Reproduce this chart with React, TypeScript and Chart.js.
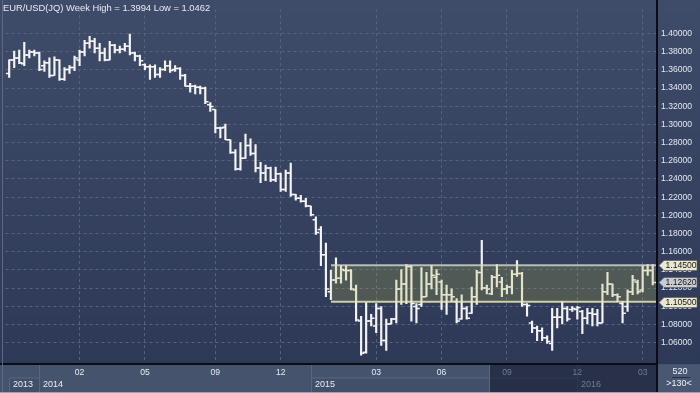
import React, { useEffect, useRef } from 'react';
import { Chart, registerables } from 'chart.js';
Chart.register(...registerables);

// Weekly EUR/USD OHLC, one entry per week (index 0 = late Nov 2013)
const opens = [1.3560,1.3710,1.3732,1.3668,1.3764,1.3796,1.3786,1.3646,1.3678,1.3539,
1.3710,1.3496,1.3603,1.3625,1.3710,1.3796,1.3893,1.3914,1.3839,1.3786,
1.3710,1.3871,1.3818,1.3828,1.3861,1.3786,1.3753,1.3657,1.3635,1.3635,
1.3550,1.3603,1.3646,1.3603,1.3614,1.3539,1.3421,1.3421,1.3410,1.3399,
1.3217,1.3163,1.2960,1.2970,1.2831,1.2692,1.2509,1.2627,1.2767,1.2681,
1.2520,1.2466,1.2520,1.2391,1.2456,1.2284,1.2466,1.2230,1.2187,1.2155,
1.2102,1.1952,1.1844,1.1565,1.1158,1.1287,1.1308,1.1394,1.1394,1.1179,
1.0836,1.0493,1.0836,1.0782,1.0976,1.0622,1.0804,1.0858,1.1190,1.1243,
1.1437,1.0997,1.1019,1.1104,1.1243,1.1319,1.1265,1.1126,1.1126,1.1051,
1.0858,1.0976,1.0922,1.1104,1.1372,1.1201,1.1136,1.1319,1.1265,1.1190,
1.1211,1.1351,1.1361,1.1019,1.0815,1.0761,1.0729,1.0654,1.0590,1.0879,
1.0879,1.0976,1.0965,1.0965,1.0943,1.0868,1.0922,1.0911,1.0815,1.1158,
1.1243,1.1126,1.1029,1.0997,1.1158,1.1265,1.1179,1.1394,1.1394];
const highs = [1.3710,1.3807,1.3818,1.3903,1.3818,1.3818,1.3796,1.3700,1.3732,1.3743,
1.3710,1.3625,1.3646,1.3753,1.3818,1.3925,1.3968,1.3946,1.3893,1.3839,
1.3914,1.3882,1.3861,1.3893,1.3994,1.3796,1.3764,1.3668,1.3657,1.3657,
1.3625,1.3700,1.3700,1.3646,1.3625,1.3550,1.3453,1.3432,1.3421,1.3410,
1.3239,1.3163,1.2970,1.3003,1.2831,1.2724,1.2799,1.2895,1.2842,1.2777,
1.2584,1.2552,1.2531,1.2531,1.2466,1.2498,1.2574,1.2230,1.2220,1.2187,
1.2102,1.1984,1.1876,1.1694,1.1394,1.1533,1.1447,1.1447,1.1404,1.1233,
1.0890,1.1040,1.0911,1.1029,1.0997,1.0858,1.0868,1.1287,1.1404,1.1458,
1.1447,1.1029,1.1426,1.1372,1.1447,1.1404,1.1287,1.1233,1.1190,1.1083,
1.1126,1.0997,1.1211,1.1394,1.1726,1.1233,1.1340,1.1458,1.1319,1.1233,
1.1394,1.1501,1.1372,1.1029,1.0836,1.0782,1.0761,1.0675,1.0976,1.0976,
1.1051,1.0997,1.0997,1.0997,1.0954,1.0976,1.0976,1.0965,1.1243,1.1372,
1.1243,1.1136,1.1051,1.1179,1.1340,1.1287,1.1447,1.1458,1.1458];
const lows = [1.3517,1.3625,1.3668,1.3646,1.3732,1.3753,1.3592,1.3582,1.3517,1.3539,
1.3485,1.3485,1.3560,1.3592,1.3646,1.3753,1.3839,1.3786,1.3700,1.3700,
1.3710,1.3786,1.3786,1.3807,1.3764,1.3700,1.3646,1.3603,1.3496,1.3517,
1.3517,1.3592,1.3571,1.3582,1.3496,1.3421,1.3356,1.3335,1.3335,1.3228,
1.3142,1.2906,1.2852,1.2831,1.2681,1.2498,1.2498,1.2627,1.2659,1.2477,
1.2359,1.2381,1.2370,1.2370,1.2263,1.2263,1.2209,1.2166,1.2145,1.2091,
1.1994,1.1791,1.1447,1.1104,1.1072,1.1254,1.1254,1.1287,1.1179,1.0836,
1.0462,1.0482,1.0782,1.0708,1.0568,1.0514,1.0804,1.0815,1.1019,1.1029,
1.0836,1.0815,1.0997,1.1104,1.1190,1.1126,1.0965,1.0911,1.1051,1.0815,
1.0858,1.0858,1.0922,1.1019,1.1179,1.1136,1.1126,1.1211,1.1104,1.1136,
1.1136,1.1329,1.0997,1.0890,1.0708,1.0622,1.0622,1.0590,1.0514,1.0761,
1.0804,1.0836,1.0943,1.0858,1.0697,1.0804,1.0782,1.0782,1.0815,1.1126,
1.1104,1.1051,1.0815,1.0943,1.1126,1.1136,1.1158,1.1340,1.1233];
const closes = [1.3710,1.3732,1.3678,1.3764,1.3796,1.3786,1.3603,1.3678,1.3539,1.3710,
1.3496,1.3603,1.3625,1.3732,1.3796,1.3893,1.3914,1.3839,1.3786,1.3710,
1.3871,1.3818,1.3828,1.3861,1.3786,1.3753,1.3700,1.3635,1.3635,1.3550,
1.3603,1.3646,1.3592,1.3614,1.3539,1.3421,1.3421,1.3410,1.3399,1.3249,
1.3196,1.2960,1.2960,1.2831,1.2692,1.2509,1.2627,1.2767,1.2681,1.2520,
1.2466,1.2520,1.2391,1.2456,1.2284,1.2466,1.2230,1.2187,1.2155,1.2102,
1.2005,1.1812,1.1565,1.1190,1.1287,1.1308,1.1404,1.1394,1.1190,1.0847,
1.0482,1.0836,1.0868,1.0976,1.0622,1.0804,1.0858,1.1190,1.1243,1.1437,
1.1029,1.0976,1.1104,1.1243,1.1340,1.1351,1.1126,1.1126,1.1104,1.0836,
1.0976,1.0868,1.1104,1.1372,1.1201,1.1190,1.1319,1.1340,1.1190,1.1211,
1.1351,1.1361,1.1019,1.1008,1.0761,1.0729,1.0654,1.0611,1.0879,1.0879,
1.0976,1.0858,1.0976,1.0986,1.0868,1.0922,1.0911,1.0815,1.1158,1.1243,
1.1126,1.1104,1.0922,1.1158,1.1287,1.1158,1.1394,1.1394,1.1262];

const monthTickIdx = [14, 27, 41, 54, 73, 86, 99, 113, 126];
const monthLabels = ['02', '05', '09', '12', '03', '06', '09', '12', '03'];
const yearLabels = ['2013', '2014', '2015', '2016'];
const yearStartIdx = [0, 6, 60, 113];
const yTicks = [1.06, 1.08, 1.10, 1.12, 1.14, 1.16, 1.18, 1.20, 1.22, 1.24, 1.26, 1.28, 1.30, 1.32, 1.34, 1.36, 1.38, 1.40];
const bandHigh = 1.145;
const bandLow = 1.105;
const bandStartIdx = 64;
const scrollStartIdx = 96;
const cornerTop = '520';
const cornerBottom = '>130<';
const symbol = 'EUR/USD(JQ) Week';

const FONT = '"Liberation Sans", Arial, sans-serif';

export default function App() {
  const ref = useRef<HTMLCanvasElement | null>(null);
  useEffect(() => {
    const canvas = ref.current!;
    const last = closes[closes.length - 1];
    const hi = Math.max(...highs);
    const lo = Math.min(...lows);
    const title = `${symbol} High = ${hi.toFixed(4)} Low = ${lo.toFixed(4)}`;

    const bgPlugin = {
      id: 'bgPlugin',
      beforeDraw(chart: any) {
        const { ctx, scales } = chart;
        const x = scales.x;
        ctx.save();
        const g = ctx.createLinearGradient(0, 0, 0, 364);
        g.addColorStop(0, '#3f4c69');
        g.addColorStop(1, '#2d3956');
        ctx.fillStyle = g;
        ctx.fillRect(0, 0, 700, 364);
        ctx.fillStyle = '#46536d';
        ctx.fillRect(0, 364, 700, 29);
        const xs = yearStartIdx.map((i) => Math.round(x.getPixelForValue(i)));
        const right = chart.chartArea.right;
        for (let k = 0; k < xs.length; k++) {
          const x0 = xs[k];
          const x1 = k + 1 < xs.length ? xs[k + 1] : right;
          if (k % 2 === 0) {
            ctx.fillStyle = '#424f69';
            ctx.fillRect(x0, 378, x1 - x0, 14);
            ctx.fillStyle = '#5a6680';
            ctx.fillRect(x0, 377.5, x1 - x0, 1);
          }
          ctx.fillStyle = '#5a6680';
          ctx.fillRect(x0, k === 0 ? 378 : 364, 1, k === 0 ? 14 : 28);
        }
        const sx = Math.round(x.getPixelForValue(scrollStartIdx - 0.5));
        ctx.fillStyle = 'rgba(20,27,46,0.6)';
        ctx.fillRect(sx, 364, right - sx, 28);
        ctx.fillStyle = '#5a6680';
        ctx.fillRect(sx, 364, 1, 28);
        ctx.restore();
      },
    };

    const bandPlugin = {
      id: 'bandPlugin',
      afterDatasetsDraw(chart: any) {
        const { ctx, scales, chartArea } = chart;
        const x0 = scales.x.getPixelForValue(bandStartIdx);
        const yT = scales.y.getPixelForValue(bandHigh);
        const yB = scales.y.getPixelForValue(bandLow);
        ctx.save();
        ctx.fillStyle = 'rgba(175,180,70,0.24)';
        ctx.fillRect(x0, yT, chartArea.right - x0, yB - yT);
        ctx.lineWidth = 2;
        ctx.strokeStyle = 'rgba(215,218,210,0.8)';
        ctx.beginPath();
        ctx.moveTo(x0, yT);
        ctx.lineTo(chartArea.right, yT);
        ctx.stroke();
        ctx.strokeStyle = 'rgba(235,230,180,0.85)';
        ctx.beginPath();
        ctx.moveTo(x0, yB);
        ctx.lineTo(chartArea.right, yB);
        ctx.stroke();
        ctx.restore();
      },
    };

    const overlayPlugin = {
      id: 'overlayPlugin',
      afterDraw(chart: any) {
        const { ctx, scales } = chart;
        const x = scales.x;
        const y = scales.y;
        ctx.save();
        ctx.fillStyle = '#0a0d14';
        ctx.fillRect(656, 0, 2, 393);
        ctx.fillRect(0, 363, 657, 2);
        ctx.fillStyle = '#5e6a85';
        ctx.fillRect(2, 0, 1, 393);
        ctx.fillStyle = '#9aa3b6';
        ctx.fillRect(0, 392, 700, 1);
        ctx.font = `9px ${FONT}`;
        ctx.textBaseline = 'middle';
        ctx.textAlign = 'left';
        yearLabels.forEach((lab, k) => {
          const px = Math.round(x.getPixelForValue(yearStartIdx[k]));
          ctx.fillStyle = yearStartIdx[k] >= scrollStartIdx ? '#6f7b96' : '#e8ecf2';
          ctx.fillText(lab, px + 4, 385);
        });
        ctx.fillStyle = '#4a5773';
        ctx.fillRect(658, 365, 42, 27);
        ctx.fillStyle = '#f0f2f6';
        ctx.textAlign = 'center';
        ctx.fillText(cornerTop, 680, 372);
        ctx.fillStyle = '#27304a';
        ctx.fillRect(672, 377, 18, 1);
        ctx.fillStyle = '#f0f2f6';
        ctx.fillText(cornerBottom, 679, 384);
        const callouts = [
          { v: bandHigh, bg: '#ebe8d2' },
          { v: last, bg: '#c7cbd4' },
          { v: bandLow, bg: '#ebe8d2' },
        ];
        ctx.font = `8.6px ${FONT}`;
        ctx.textAlign = 'left';
        callouts.forEach((c) => {
          const cy = Math.round(y.getPixelForValue(c.v)) + 0.5;
          ctx.beginPath();
          ctx.moveTo(659, cy);
          ctx.lineTo(664, cy - 5);
          ctx.lineTo(697, cy - 5);
          ctx.lineTo(697, cy + 5);
          ctx.lineTo(664, cy + 5);
          ctx.closePath();
          ctx.fillStyle = c.bg;
          ctx.fill();
          ctx.strokeStyle = 'rgba(90,90,80,0.6)';
          ctx.lineWidth = 1;
          ctx.stroke();
          ctx.fillStyle = '#161616';
          ctx.fillText(c.v.toFixed(5), 665.5, cy + 0.5);
        });
        ctx.font = `9.4px ${FONT}`;
        ctx.fillStyle = '#e8ebf2';
        ctx.textAlign = 'left';
        ctx.textBaseline = 'middle';
        ctx.fillText(title, 3, 8);
        ctx.restore();
      },
    };

    const white = '#f4f4f4';
    const chart = new Chart(canvas, {
      type: 'bar',
      data: {
        datasets: [
          {
            type: 'bar',
            data: lows.map((l, i) => ({ x: i, y: [l, highs[i]] })) as any,
            backgroundColor: white,
            borderWidth: 0,
            barThickness: 1.5,
            order: 3,
          } as any,
          {
            type: 'scatter',
            data: opens.map((o, i) => ({ x: i, y: o })),
            pointStyle: 'dash',
            rotation: 180,
            radius: 3.3,
            borderColor: white,
            borderWidth: 1.5,
            order: 2,
          } as any,
          {
            type: 'scatter',
            data: closes.map((c, i) => ({ x: i, y: c })),
            pointStyle: 'dash',
            rotation: 0,
            radius: 3.3,
            borderColor: white,
            borderWidth: 1.5,
            order: 1,
          } as any,
        ],
      },
      options: {
        responsive: false,
        animation: false,
        devicePixelRatio: 1,
        events: [],
        layout: { padding: { left: 3, top: 0, right: 0, bottom: 0 } },
        plugins: { legend: { display: false }, tooltip: { enabled: false } },
        scales: {
          x: {
            type: 'linear',
            offset: false,
            min: -0.733,
            max: 128.85,
            afterFit: (s: any) => { s.height = 29; },
            afterBuildTicks: (s: any) => { s.ticks = monthTickIdx.map((v) => ({ value: v })); },
            grid: { offset: false, drawTicks: false, color: '#56637f', lineWidth: 1 },
            border: { display: false, dash: [3, 3] },
            ticks: {
              autoSkip: false,
              maxRotation: 0,
              padding: 3,
              font: { size: 8.6, family: FONT },
              color: (c: any) => (c.tick && c.tick.value >= scrollStartIdx ? '#6f7b96' : '#e8ecf2'),
              callback: (v: any) => {
                const k = monthTickIdx.indexOf(Number(v));
                return k >= 0 ? monthLabels[k] : '';
              },
            },
          },
          y: {
            type: 'linear',
            position: 'right',
            min: 1.03642,
            max: 1.42681,
            beginAtZero: false,
            afterFit: (s: any) => { s.width = 43; },
            afterBuildTicks: (s: any) => { s.ticks = yTicks.map((v) => ({ value: v })); },
            grid: { drawTicks: false, color: '#56637f', lineWidth: 1 },
            border: { display: false, dash: [3, 3] },
            ticks: {
              padding: 4,
              font: { size: 8.6, family: FONT },
              color: '#e4e8f0',
              callback: (v: any) => Number(v).toFixed(5),
            },
          },
        },
      } as any,
      plugins: [bgPlugin, bandPlugin, overlayPlugin],
    });
    return () => chart.destroy();
  }, []);

  return (
    <div style={{ position: 'absolute', left: 0, top: 0, width: 700, height: 393 }}>
      <canvas ref={ref} width={700} height={393} />
    </div>
  );
}
